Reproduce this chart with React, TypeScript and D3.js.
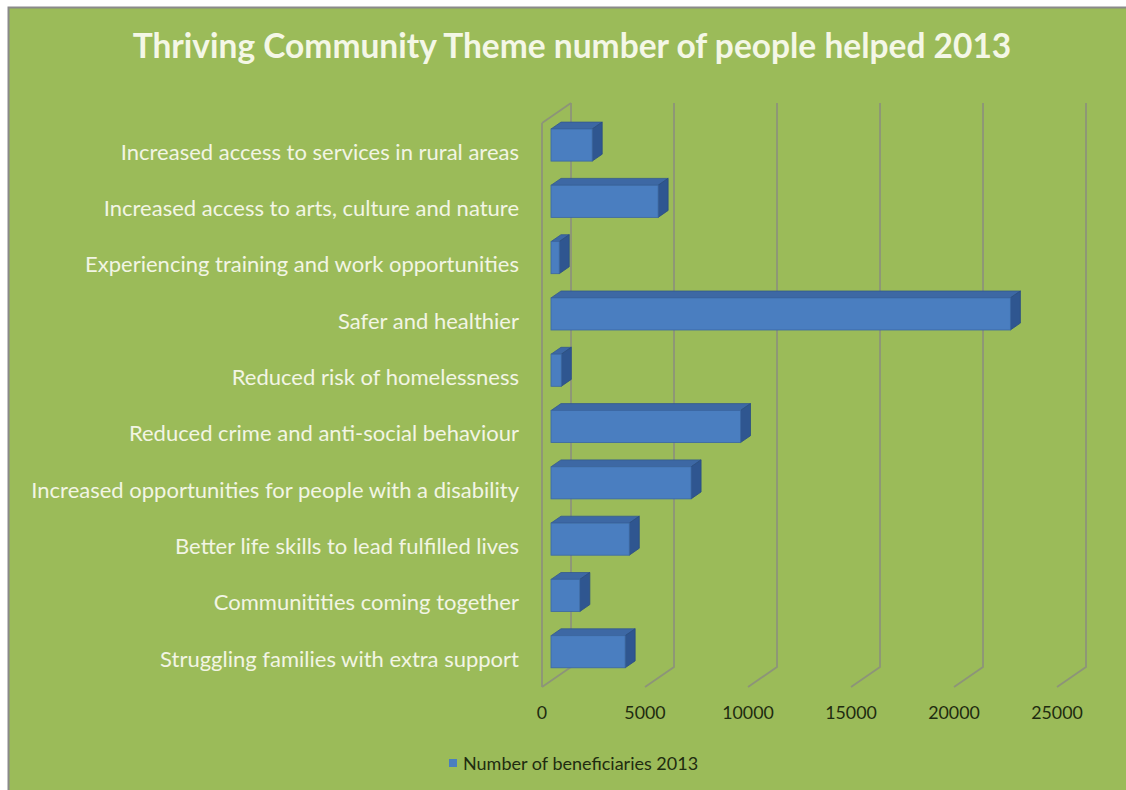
import React, { useEffect } from "react";
import * as d3 from "d3";

const categories = [
  "Increased access to services in rural areas",
  "Increased access to arts, culture and nature",
  "Experiencing training and work opportunities",
  "Safer and healthier",
  "Reduced risk of homelessness",
  "Reduced crime and anti-social behaviour",
  "Increased opportunities for people with a disability",
  "Better life skills to lead fulfilled lives",
  "Communitities coming together",
  "Struggling families with extra support",
];
const beneficiaries = [2000, 5200, 400, 22300, 500, 9200, 6800, 3800, 1400, 3600];
const ticks = [0, 5000, 10000, 15000, 20000, 25000];
const title = "Thriving Community Theme number of people helped 2013";
const seriesName = "Number of beneficiaries 2013";

const W = 1126;
const H = 790;
const font = "Lato, 'Open Sans', sans-serif";

// oblique depth of the plot box
const depthX = 29;
const depthY = -20;
const frontX = 542; // floor front edge, value 0
const floorY = 687;
const wallTop = 123;
// bars sit in the middle of the depth
const barZ0 = 0.31;
const barZ1 = 0.655;

const App: React.FC = () => {
  useEffect(() => {
    document.body.style.margin = "0";
  }, []);

  const x = d3.scaleLinear().domain([0, 25000]).range([0, 515]);
  const y = d3
    .scaleBand<string>()
    .domain(categories)
    .range([116.9 + 6.2, 116.9 + 6.2 + 563])
    .paddingInner(0.43)
    .paddingOuter(0.215);

  const bx0 = frontX + barZ0 * depthX;
  const bdx = (barZ1 - barZ0) * depthX;
  const bdy = (barZ1 - barZ0) * depthY;
  const lift = barZ0 * depthY;
  const h = y.bandwidth();

  const grid = "#8d9479";

  return (
    <svg width={W} height={H} style={{ position: "absolute", left: 0, top: 0, display: "block" }}>
      <rect x={0} y={0} width={W} height={H} fill="#ffffff" />
      <rect x={8.5} y={7.5} width={W} height={H} fill="#9bbb59" stroke="#8a8a8a" strokeWidth={2} />

      <text x={572} y={58} textAnchor="middle" fill="#f4f7e6" fontFamily={font} fontWeight="bold" fontSize={33.5}>
        {title}
      </text>

      {/* walls and gridlines */}
      <g stroke={grid} strokeWidth={1.8} fill="none">
        <line x1={frontX} y1={wallTop} x2={frontX} y2={floorY} />
        <line x1={frontX} y1={wallTop} x2={frontX + depthX} y2={wallTop + depthY} />
        {ticks.map((t) => (
          <polyline
            key={t}
            points={`${frontX + depthX + x(t)},${wallTop + depthY} ${frontX + depthX + x(t)},${floorY + depthY} ${frontX + x(t)},${floorY}`}
          />
        ))}
      </g>

      {/* bars */}
      {categories.map((c, i) => {
        const w = x(beneficiaries[i]);
        const top = (y(c) as number) + lift;
        return (
          <g key={c}>
            <polygon
              points={`${bx0},${top} ${bx0 + w},${top} ${bx0 + w + bdx},${top + bdy} ${bx0 + bdx},${top + bdy}`}
              fill="#3d68a4"
              stroke="#34598e"
              strokeWidth={0.8}
            />
            <polygon
              points={`${bx0 + w},${top} ${bx0 + w + bdx},${top + bdy} ${bx0 + w + bdx},${top + bdy + h} ${bx0 + w},${top + h}`}
              fill="#2f5690"
              stroke="#2a4d82"
              strokeWidth={0.8}
            />
            <rect x={bx0} y={top} width={w} height={h} fill="#4a7ec0" stroke="#3b67a3" strokeWidth={0.8} />
          </g>
        );
      })}

      {/* category labels */}
      {categories.map((c) => (
        <text
          key={c}
          x={519}
          y={(y(c) as number) + h / 2 + 3}
          textAnchor="end"
          dominantBaseline="middle"
          fill="#f2f5e4"
          fontFamily={font}
          fontSize={22}
        >
          {c}
        </text>
      ))}

      {/* value axis labels */}
      {ticks.map((t) => (
        <text key={t} x={frontX + x(t)} y={719} textAnchor="middle" fill="#1f2c10" fontFamily={font} fontSize={17.8}>
          {t}
        </text>
      ))}

      {/* legend */}
      <rect x={449} y={759} width={8} height={8} fill="#4a7ec0" />
      <text x={463} y={770} fill="#1f2c10" fontFamily={font} fontSize={18}>
        {seriesName}
      </text>
    </svg>
  );
};

export default App;
